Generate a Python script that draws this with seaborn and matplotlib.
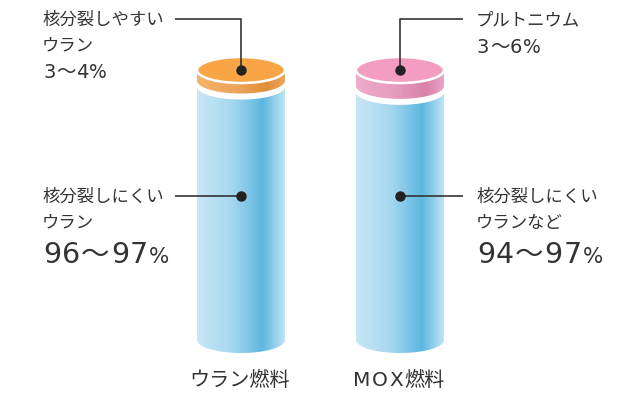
import numpy as np
import matplotlib
matplotlib.use("Agg")
import matplotlib.pyplot as plt
import seaborn as sns
from matplotlib.path import Path
from matplotlib.patches import PathPatch, Ellipse
from matplotlib.colors import LinearSegmentedColormap

# ---- data ----
fuels = ["ウラン燃料", "MOX燃料"]
fissile_names = ["核分裂しやすい\nウラン", "プルトニウム"]
fissile_ranges = ["3〜4%", "3〜6%"]
fissile_pct = [4, 6]
rest_names = ["核分裂しにくい\nウラン", "核分裂しにくい\nウランなど"]
rest_ranges = ["96〜97%", "94〜97%"]
rest_pct = [96, 94]

# ---- style ----
sns.set_theme(style="white")
plt.rcParams["font.family"] = ["Noto Sans CJK JP", "DejaVu Sans"]
TXT = "#333333"
CJK = ["Noto Sans CJK JP", "DejaVu Sans"]
LAT = ["DejaVu Sans", "Noto Sans CJK JP"]

W, H = 642, 393
fig = plt.figure(figsize=(W / 100, H / 100), dpi=100)
ax = fig.add_axes([0, 0, 1, 1])

SX = 159.0
X0 = 241.0
SY = 2.64
Y0 = 340.0
GAP = 6.0 / SY
RY = 13.0 / SY


def dx(px):
    return (px - X0) / SX


def dy(py):
    return (Y0 - py) / SY


sns.barplot(x=fuels, y=rest_pct, width=88.0 / SX, color="#8ccbe9", ax=ax)
ax.set_xlim(dx(0), dx(W))
ax.set_ylim(dy(H), dy(0))
ax.axis("off")

blue_cm = LinearSegmentedColormap.from_list(
    "b", [(0, "#c8e7f7"), (0.4, "#a6d7f0"), (0.75, "#5db7df"), (1.0, "#bfe4f6")])
band_cms = [
    LinearSegmentedColormap.from_list(
        "o", [(0, "#f3b46c"), (0.45, "#eda559"), (0.8, "#e08f38"), (1.0, "#eba75e")]),
    LinearSegmentedColormap.from_list(
        "p", [(0, "#efaccb"), (0.45, "#e69bbd"), (0.8, "#d882aa"), (1.0, "#e9a5c4")]),
]
top_colors = ["#f8a545", "#f39dc1"]


def band_path(xc, rx, y_top, y_bot, ry, n=80):
    t = np.linspace(np.pi, 2 * np.pi, n)
    verts = [(xc - rx, y_top), (xc - rx, y_bot)]
    verts += list(zip(xc + rx * np.cos(t), y_bot + ry * np.sin(t)))
    verts += [(xc + rx, y_top)]
    verts += list(zip(xc + rx * np.cos(t[::-1]), y_top + ry * np.sin(t[::-1])))
    verts += [(xc - rx, y_top)]
    codes = [Path.MOVETO] + [Path.LINETO] * (len(verts) - 2) + [Path.CLOSEPOLY]
    return Path(verts, codes)


def gradient_shape(xc, rx, y_top, y_bot, cmap):
    patch = PathPatch(band_path(xc, rx, y_top, y_bot, RY),
                      facecolor="none", edgecolor="none")
    ax.add_patch(patch)
    grad = cmap(np.linspace(0, 1, 256))[None, :, :3]
    im = ax.imshow(grad, extent=[xc - rx, xc + rx, y_bot - RY - 1, y_top + RY + 1],
                   aspect="auto", interpolation="bilinear", zorder=2)
    im.set_clip_path(patch)


renderer = fig.canvas.get_renderer()


def seq_text(x_px, y_px, parts, ha="left", va="baseline"):
    """parts: list of (string, fontsize, family, extra px after)"""
    arts = []
    cur = x_px
    for s, fs, fam, trk in parts:
        t = ax.text(dx(cur), dy(y_px), s, ha="left", va=va,
                    fontsize=fs, family=fam, color=TXT)
        bb = t.get_window_extent(renderer)
        arts.append(t)
        cur = bb.x1 + trk
    if ha == "center":
        width = cur - x_px
        shift = width / 2
        for t in arts:
            px, py = t.get_position()
            t.set_position((px - shift / SX, py))
    return arts


def range_parts(s, dfs, pfs, trk):
    parts = []
    for ch in s:
        if ch == "%":
            parts.append((ch, pfs, LAT, 0))
        elif ch == "〜":
            parts.append((ch, dfs, CJK, trk))
        else:
            parts.append((ch, dfs, LAT, trk))
    return parts


bars = ax.patches[:len(fuels)]
for i, bar in enumerate(bars):
    xc = bar.get_x() + bar.get_width() / 2
    rx = bar.get_width() / 2
    body_top = bar.get_height()
    bar.set_visible(False)
    top = 100 + GAP
    gradient_shape(xc, rx, body_top, 0, blue_cm)
    gradient_shape(xc, rx, top, body_top + GAP, band_cms[i])
    ax.add_patch(Ellipse((xc, top), 2 * rx, 2 * RY, facecolor=top_colors[i],
                         edgecolor="white", lw=1.8, zorder=3))

    side = -1 if i == 0 else 1
    end_x = xc + side * (66.0 / SX if i == 0 else 63.0 / SX)
    ax.plot([xc, xc, end_x], [top, dy(19), dy(19)], color=TXT, lw=1.2, zorder=4,
            solid_capstyle="butt")
    ax.plot([xc], [top], "o", color="#222222", ms=6.5, zorder=5)
    ax.plot([xc, end_x], [dy(196), dy(196)], color=TXT, lw=1.2, zorder=4,
            solid_capstyle="butt")
    ax.plot([xc], [dy(196)], "o", color="#222222", ms=6.5, zorder=5)

# bottom labels
seq_text(240, 381, [("ウラン燃料", 14.5, CJK, 0)], ha="center", va="center")
seq_text(399, 381, [("M", 14.5, LAT, 1.5), ("O", 14.5, LAT, 1.5), ("X", 14.5, LAT, 1),
                    ("燃料", 14.5, CJK, 0)], ha="center", va="center")

# callout texts
tx = [42, 476]
range_base = [78, 53]
for i in range(len(fuels)):
    ax.text(dx(tx[i]), dy(11), fissile_names[i], ha="left", va="top",
            fontsize=12.5, color=TXT, linespacing=1.5)
    seq_text(tx[i] + 1, range_base[i], range_parts(fissile_ranges[i], 14, 13.5, 0.5))
    ax.text(dx(tx[i]), dy(188), rest_names[i], ha="left", va="top",
            fontsize=12.5, color=TXT, linespacing=1.55)
    seq_text(tx[i] + 1, 263, range_parts(rest_ranges[i], 20.5, 15.5, 1.0))

fig.savefig("out.png", dpi=100, facecolor="white")
